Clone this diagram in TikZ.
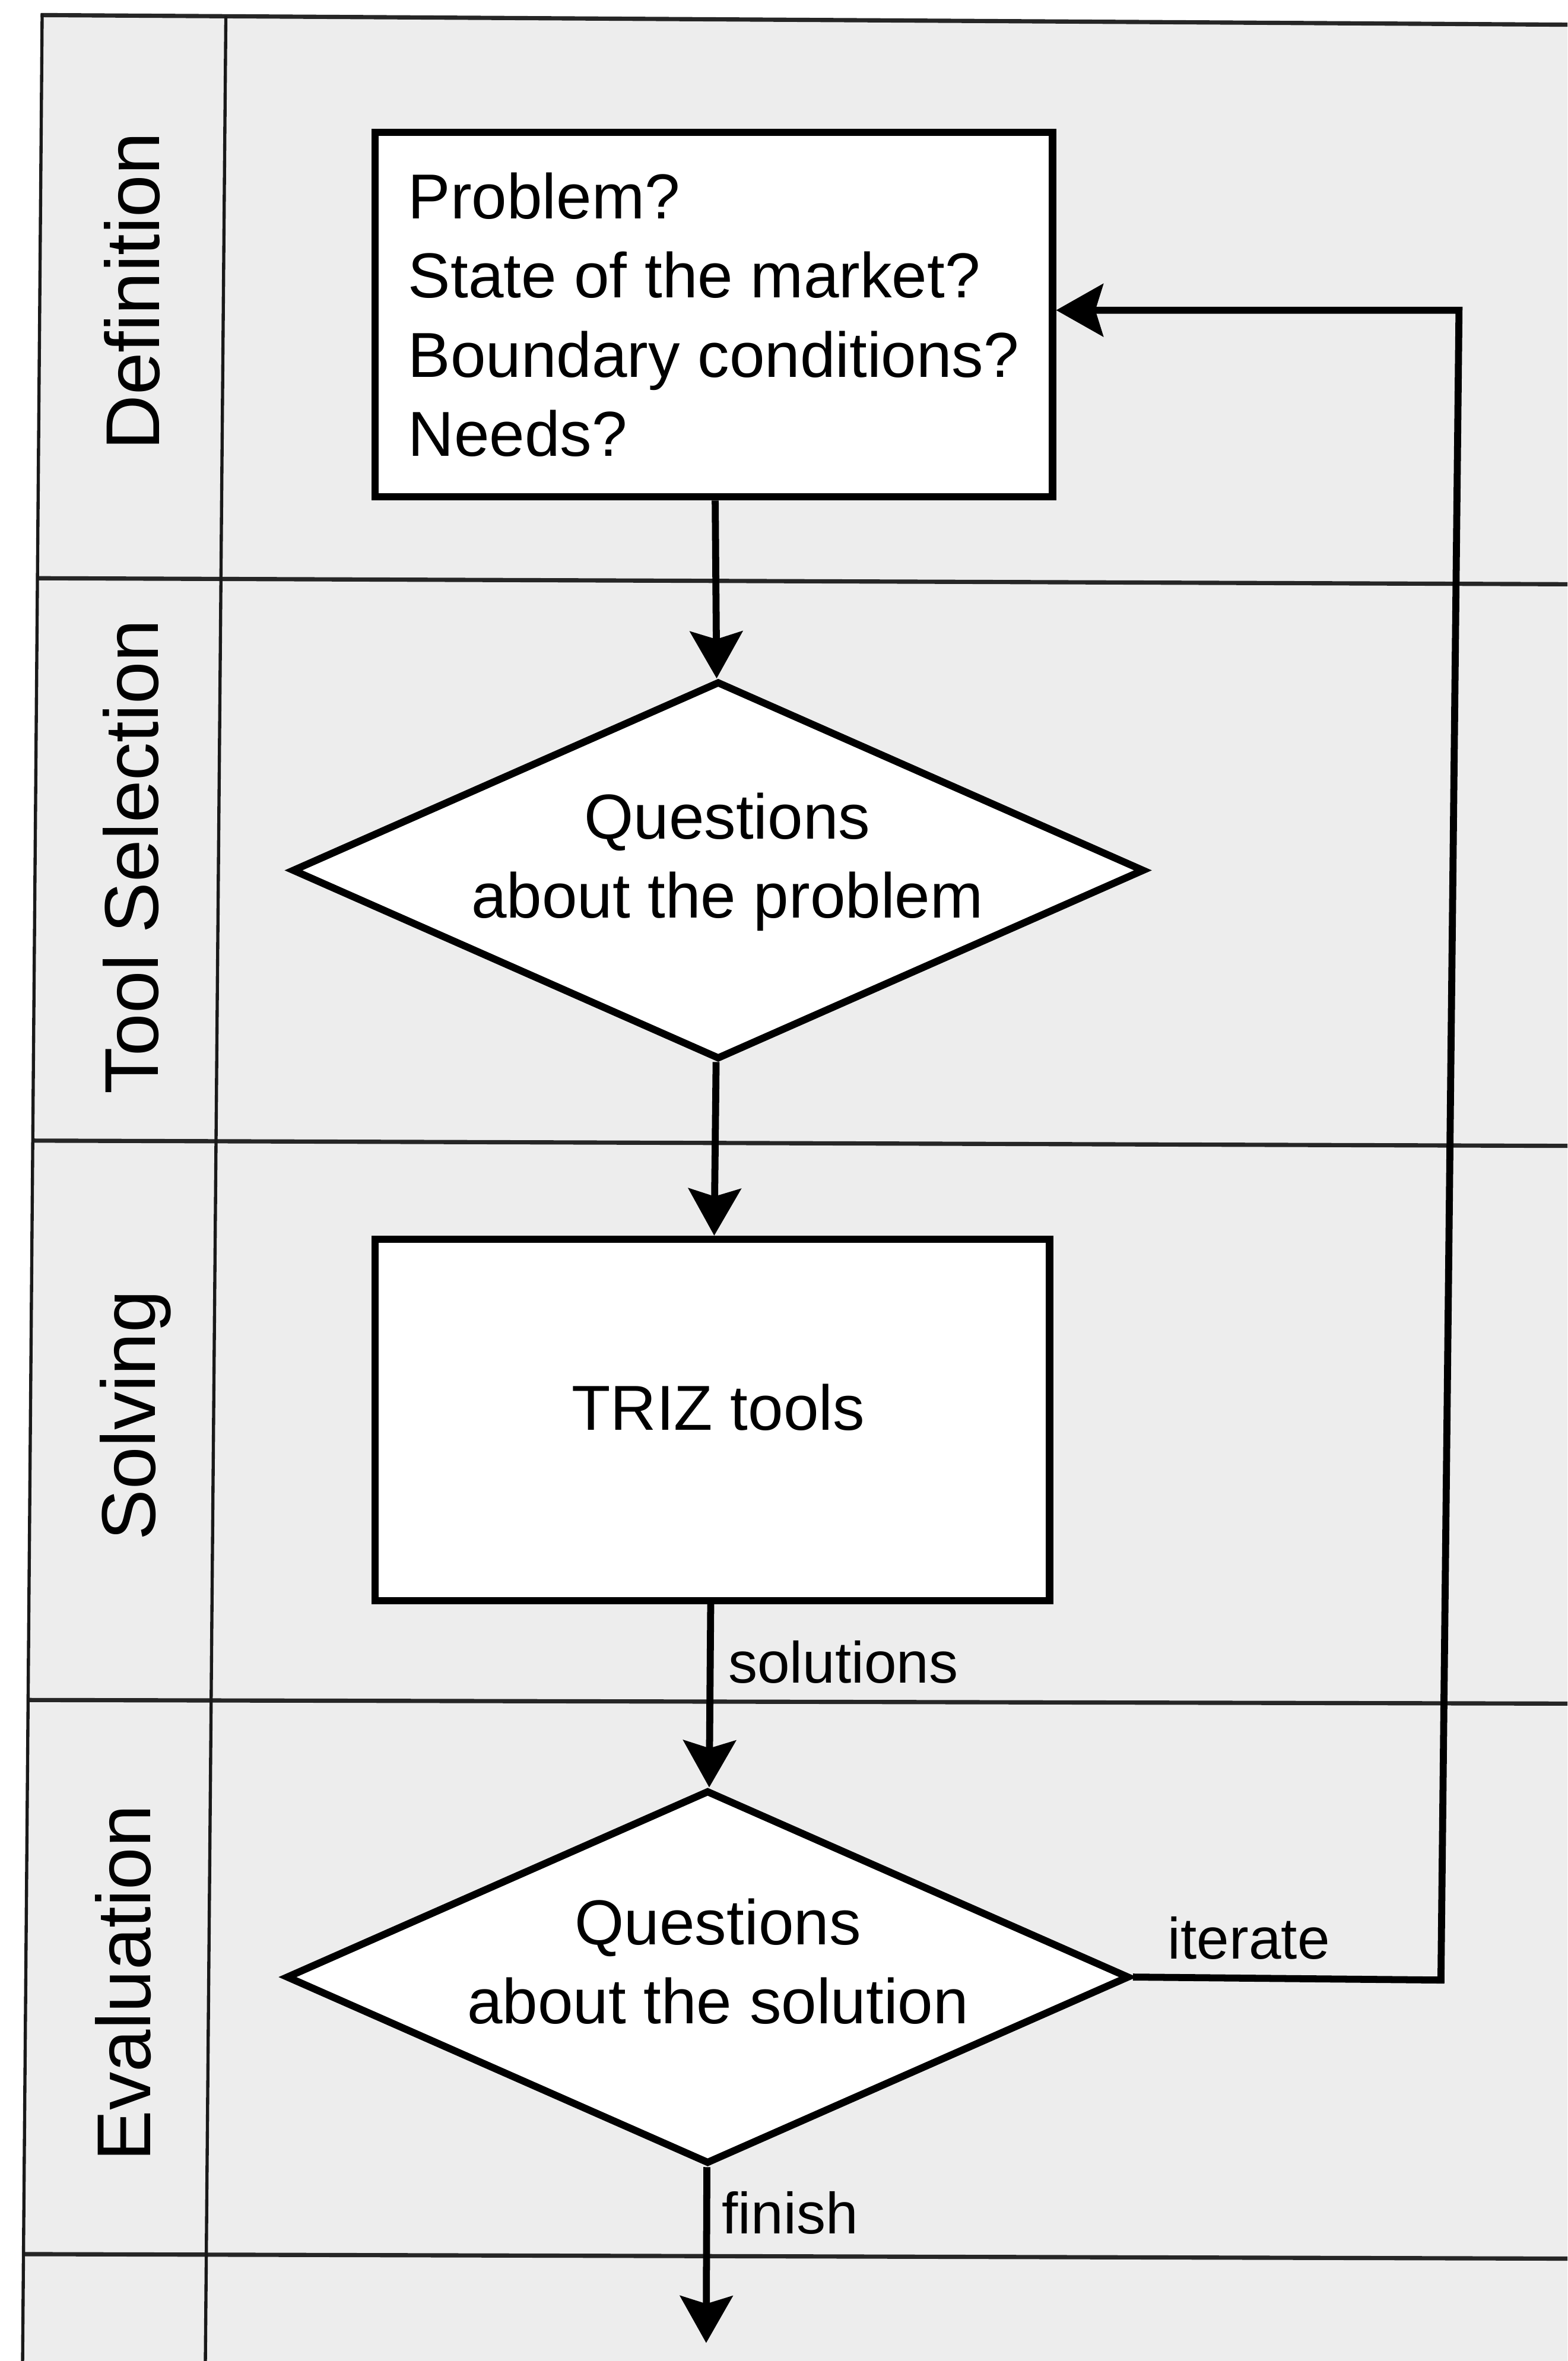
\documentclass[tikz,border=0pt]{standalone}
\usepackage{fontspec}
\setmainfont{Liberation Sans}
\usetikzlibrary{arrows.meta,shapes.geometric}
\begin{document}
\begin{tikzpicture}[x=0.025cm,y=-0.025cm,
  lanefill/.style={fill=black!7},
  laneline/.style={draw=black!85,line width=2pt},
  border/.style={draw=black!90,line width=1.5pt},
  boxtxt/.style={font=\fontsize{30}{37.3}\selectfont},
  stepbox/.style={draw,line width=3.4pt,fill=white,rectangle,inner sep=0pt,boxtxt,align=left},
  decision/.style={draw,line width=3.4pt,fill=white,diamond,inner sep=0pt},
  inlabel/.style={boxtxt,align=center,inner sep=0pt},
  lanelabel/.style={font=\fontsize{36}{43}\selectfont,rotate=90,anchor=base,inner sep=0pt},
  flowlabel/.style={font=\fontsize{27.5}{33}\selectfont,anchor=base west,inner sep=0pt},
  flow/.style={line width=3.3pt,-{Stealth[length=0.78cm,width=0.87cm,inset=0.13cm]}},
]
\useasboundingbox (0,0) rectangle (1041,1568);
\fill[white] (0,0) rectangle (1041,1568);

% swimlane frame
\fill[lanefill] (28,10) -- (1041,16.4) -- (1041,1568) -- (15,1568) -- cycle;
\draw[laneline] (27,10) -- (1041,16.4);
\draw[laneline] (24.9,384) -- (1041,388);
\draw[laneline] (21.75,757.5) -- (1041,761);
\draw[laneline] (18.6,1129) -- (1041,1131.4);
\draw[laneline] (15.6,1497) -- (1041,1500);
\draw[border] (28,9) -- (15,1568);
\draw[border] (150,10.8) -- (136.4,1568);

% lane titles
\node[lanelabel] (lDef)  at (106,193.5) {Definition};
\node[lanelabel] (lTool) at (105,569)   {Tool Selection};
\node[lanelabel] (lSolv) at (103,940)   {Solving};
\node[lanelabel] (lEval) at (100,1317)  {Evaluation};

% flow elements
\node[stepbox,minimum width=11.25cm,minimum height=6.05cm] (b1) at (474,209)
  {Problem?\\State of the market?\\Boundary conditions?\\Needs?};
\node[decision,minimum width=14.15cm,minimum height=6.275cm,
  label={[inlabel,xshift=0.15cm,yshift=0.14cm]center:{Questions\\about the problem}}] (d1) at (477,578) {};
\node[stepbox,minimum width=11.2cm,minimum height=6cm,
  label={[inlabel,xshift=0.1cm,yshift=0.21cm]center:{TRIZ tools}}] (b2) at (473,943) {};
\node[decision,minimum width=14cm,minimum height=6.2cm,
  label={[inlabel,xshift=0.17cm,yshift=0.26cm]center:{Questions\\about the solution}}] (d2) at (470,1313) {};

% connector bends and loose end
\coordinate (it1) at (957,1315);
\coordinate (it2) at (969,206);
\coordinate (finend) at (469,1556);

% connectors
\draw[flow] (b1) -- (d1);
\draw[flow] (d1) -- (b2);
\draw[flow] (b2) -- (d2);
\draw[flow] (d2.east) -- (it1) -- (it2) -- (b1.east |- it2);
\draw[flow] (d2) -- (finend);

% connector labels
\node[flowlabel] (lsol) at (483.4,1117.6) {solutions};
\node[flowlabel] (lit)  at (775.4,1301)   {iterate};
\node[flowlabel] (lfin) at (479.3,1483.4) {finish};
\end{tikzpicture}
\end{document}
